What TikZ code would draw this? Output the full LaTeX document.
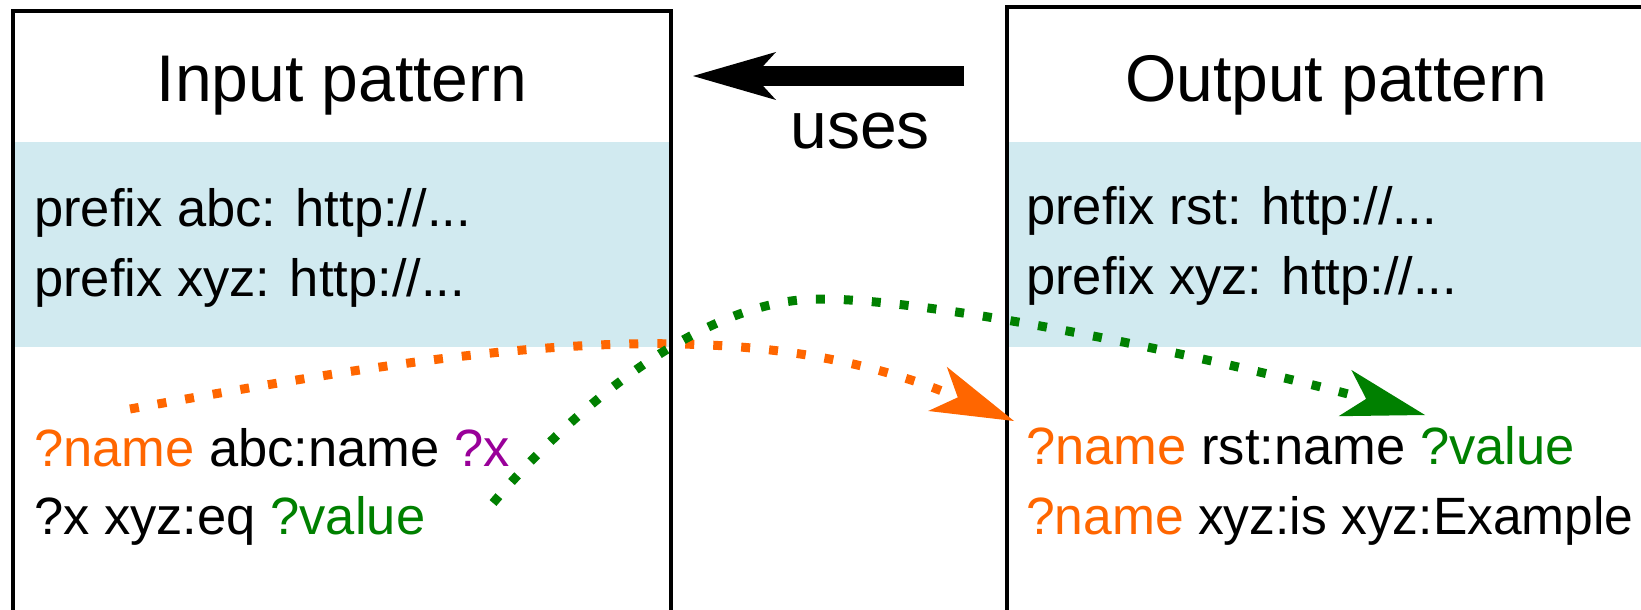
\documentclass[tikz,border=0pt]{standalone}
\usepackage{fontspec}
\setmainfont{Liberation Sans}
\usetikzlibrary{arrows.meta}
\definecolor{band}{RGB}{209,234,240}
\definecolor{qorange}{RGB}{255,102,0}
\definecolor{qgreen}{RGB}{0,128,0}
\definecolor{qpurple}{RGB}{153,0,153}
\tikzset{bigtip/.tip={Stealth[length=83pt,width=48pt,inset=22pt,line width=0pt]}}
\begin{document}
\begin{tikzpicture}[x=1pt,y=-1pt,
  panel/.style={draw=black,line width=3.5pt,minimum width=658pt,minimum height=660pt,inner sep=0pt,outer sep=0pt,anchor=north west},
  bandbox/.style={fill=band,draw=none,minimum width=658pt,minimum height=205pt,inner sep=0pt,outer sep=0pt,anchor=north west},
  title/.style={font=\fontsize{66}{80}\selectfont,anchor=base,inner sep=0pt},
  code/.style={font=\fontsize{52.5}{63}\selectfont,anchor=base west,inner sep=0pt},
  dotline/.style={line width=9pt,dash pattern=on 9pt off 19pt,line cap=butt},
  usesarrow/.style={line width=19pt,line cap=butt}
]
\useasboundingbox (0,0) rectangle (1641,610);
\clip (0,0) rectangle (1641,610);
% bands
\node[bandbox] (inband) at (13,142) {};
\node[bandbox] (outband) at (1007,142) {};
% boxes
\node[panel] (inbox) at (13,11) {};
\node[panel] (outbox) at (1007,7) {};
% titles
\node[title] (intitle) at (342,101) {Input pattern};
\node[title] (outtitle) at (1336,101) {Output pattern};
\node[title] (uses) at (860,148) {uses};
% left text
\node[code] (l1) at (34,226) {prefix abc: http://...};
\node[code] (l2) at (34,296) {prefix xyz: http://...};
\node[code] (l3) at (34,466) {\textcolor{qorange}{?name} abc:name \textcolor{qpurple}{?x}};
\node[code] (l4) at (34,534) {?x xyz:eq \textcolor{qgreen}{?value}};
% right text
\node[code] (r1) at (1026,224) {prefix rst: http://...};
\node[code] (r2) at (1026,294) {prefix xyz: http://...};
\node[code] (r3) at (1026,464) {\textcolor{qorange}{?name} rst:name \textcolor{qgreen}{?value}};
\node[code] (r4) at (1026,534) {\scalebox{0.982}[1]{\textcolor{qorange}{?name} xyz:is xyz:Example}};
% uses arrow
\coordinate (usestail) at (964,76);
\coordinate (useshead) at (693,76);
\draw[usesarrow,-{bigtip}] (usestail) -- (useshead);
% connectors
\coordinate (ostart) at (130,409);
\coordinate (oend) at (1014,421);
\coordinate (gstart) at (493,503);
\coordinate (gpeak) at (819,299);
\coordinate (gend) at (1425,415);
\draw[dotline,qorange,-{bigtip}] (ostart) .. controls (460,349.6) and (734,303.4) .. (oend);
\draw[dotline,qgreen,-{bigtip}] (gstart) .. controls (585,395) and (710,299) .. (gpeak) .. controls (950,299) and (1250,367) .. (gend);
\end{tikzpicture}
\end{document}
